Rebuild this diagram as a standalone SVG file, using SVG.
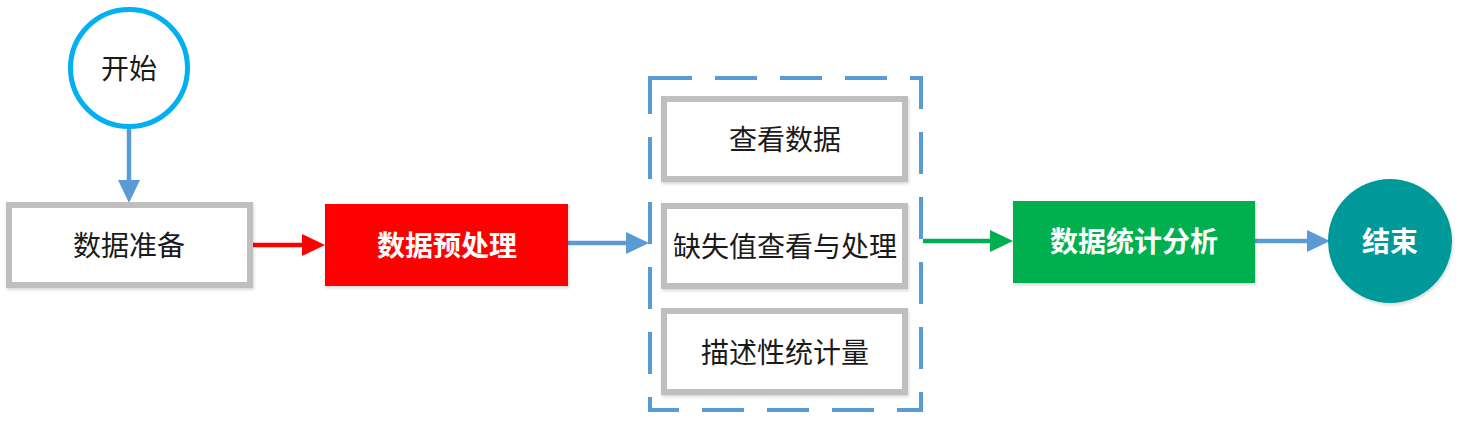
<svg xmlns="http://www.w3.org/2000/svg" width="1459" height="422" viewBox="0 0 1459 422">
<style>
.t{font-family:"Noto Sans CJK SC","Microsoft YaHei",sans-serif;font-size:28px;text-anchor:middle;dominant-baseline:central;fill:#1a1a1a}
.w{fill:#ffffff;font-weight:bold}
.gbox{fill:#ffffff;stroke:#BFBFBF;stroke-width:6}
.ln{fill:none;stroke-width:4.5}
</style>
<defs>
<filter id="sh" x="-10%" y="-10%" width="130%" height="130%">
<feDropShadow dx="1" dy="2" stdDeviation="1.5" flood-color="#000" flood-opacity="0.15"/>
</filter>
<marker id="ab" markerUnits="userSpaceOnUse" markerWidth="24" markerHeight="24" refX="0" refY="11" orient="auto"><path d="M0,0 L23,11 L0,22 z" fill="#5B9BD5"/></marker>
<marker id="ar" markerUnits="userSpaceOnUse" markerWidth="24" markerHeight="24" refX="0" refY="11" orient="auto"><path d="M0,0 L23,11 L0,22 z" fill="#FF0000"/></marker>
<marker id="ag" markerUnits="userSpaceOnUse" markerWidth="24" markerHeight="24" refX="0" refY="11" orient="auto"><path d="M0,0 L23,11 L0,22 z" fill="#00B050"/></marker>
</defs>
<g id="connectors">
<line class="ln" x1="129" y1="128" x2="129" y2="180" stroke="#5B9BD5" marker-end="url(#ab)"/>
<line class="ln" x1="250" y1="245" x2="302" y2="245" stroke="#FF0000" marker-end="url(#ar)"/>
<line class="ln" x1="568" y1="243" x2="626" y2="243" stroke="#5B9BD5" marker-end="url(#ab)"/>
<line class="ln" x1="923" y1="241" x2="990" y2="241" stroke="#00B050" marker-end="url(#ag)"/>
<line class="ln" x1="1255" y1="241" x2="1307" y2="241" stroke="#5B9BD5" marker-end="url(#ab)"/>
</g>
<g id="start">
<circle cx="129" cy="68" r="58.5" fill="#ffffff" stroke="#00B0F0" stroke-width="5"/>
<text class="t" x="129" y="67">开始</text>
</g>
<g id="prepare">
<rect class="gbox" x="9" y="205" width="241" height="80" filter="url(#sh)"/>
<text class="t" x="129" y="244">数据准备</text>
</g>
<g id="preprocess">
<rect x="325" y="204" width="243" height="82" fill="#FF0000" filter="url(#sh)"/>
<text class="t w" x="447" y="244">数据预处理</text>
</g>
<g id="group">
<rect x="650" y="78" width="271" height="332" fill="none" stroke="#5B9BD5" stroke-width="4" stroke-dasharray="42 23"/>
</g>
<g id="view">
<rect class="gbox" x="664" y="99" width="241" height="80" filter="url(#sh)"/>
<text class="t" x="785" y="138">查看数据</text>
</g>
<g id="missing">
<rect class="gbox" x="664" y="206" width="241" height="80" filter="url(#sh)"/>
<text class="t" x="785" y="245">缺失值查看与处理</text>
</g>
<g id="describe">
<rect class="gbox" x="664" y="311" width="241" height="81" filter="url(#sh)"/>
<text class="t" x="785" y="351">描述性统计量</text>
</g>
<g id="analysis">
<rect x="1013" y="201" width="242" height="82" fill="#00B050" filter="url(#sh)"/>
<text class="t w" x="1134" y="240">数据统计分析</text>
</g>
<g id="end">
<circle cx="1390" cy="241" r="62" fill="#009999" filter="url(#sh)"/>
<text class="t w" x="1390" y="240">结束</text>
</g>
</svg>
